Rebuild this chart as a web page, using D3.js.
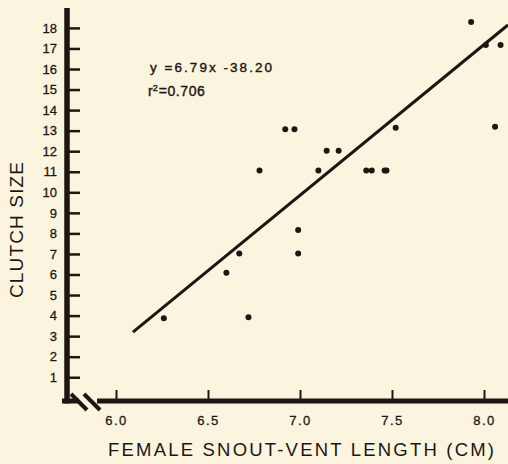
<!DOCTYPE html>
<html>
<head>
<meta charset="utf-8">
<script src="https://cdn.jsdelivr.net/npm/d3@7"></script>
<style>
  html, body { margin: 0; padding: 0; background: #fbf5e0; }
  svg { display: block; }
  text { font-family: "Liberation Sans", Arial, sans-serif; fill: #1c1712; }
</style>
</head>
<body>
<div id="chart"></div>
<script>
// DATA
var svl = [6.26, 6.60, 6.67, 6.72, 6.78, 6.92, 6.97, 6.99, 6.99, 7.10, 7.145,
           7.21, 7.36, 7.39, 7.46, 7.47, 7.52, 7.93, 8.01, 8.06, 8.09];   // female SVL (cm)
var clutch = [3.87, 6.09, 7.02, 3.92, 11.06, 13.07, 13.07, 8.17, 7.02, 11.06, 12.02,
              12.02, 11.06, 11.06, 11.06, 11.06, 13.14, 18.29, 17.17, 13.19, 17.17]; // clutch size
var fitX = [6.092, 8.13];   // drawn regression line ends
var fitY = [3.20, 18.14];
var xTicks = [6.0, 6.5, 7.0, 7.5, 8.0];
var yTicks = [1, 2, 3, 4, 5, 6, 7, 8, 9, 10, 11, 12, 13, 14, 15, 16, 17, 18];
var eqText = "y =6.79x -38.20";
var r2Text = "=0.706";

var W = 508, H = 464;
var ink = "#1c1712";
var axisX = 67;     // y axis position
var axisY = 401;    // x axis position

var svg = d3.select("#chart").append("svg")
	.attr("width", W)
	.attr("height", H);

var x = d3.scaleLinear().domain([6, 8]).range([116, 484]);
var y = d3.scaleLinear().domain([0, 18]).range([397.8, 27.9]);

// Y AXIS
var yAxis = svg.append("g")
	.attr("transform", "translate(" + axisX + ",0)")
	.call(d3.axisLeft(y).tickValues(yTicks).tickSize(-13).tickPadding(10).tickFormat(d3.format("d")));
yAxis.select(".domain").remove();
yAxis.selectAll(".tick line").attr("stroke", ink).attr("stroke-width", 2.5);
yAxis.selectAll(".tick text").style("font-size", "13px").attr("fill", ink)
	.attr("stroke", ink).attr("stroke-width", 0.3);

svg.append("line")
	.attr("x1", axisX).attr("x2", axisX)
	.attr("y1", 8).attr("y2", axisY + 2.5)
	.attr("stroke", ink).attr("stroke-width", 5.5);

// X AXIS
var xAxis = svg.append("g")
	.attr("transform", "translate(0," + axisY + ")")
	.call(d3.axisBottom(x).tickValues(xTicks).tickSize(-11).tickPadding(15).tickFormat(d3.format(".1f")));
xAxis.select(".domain").remove();
xAxis.selectAll(".tick line").attr("stroke", ink).attr("stroke-width", 2);
xAxis.selectAll(".tick text").style("font-size", "13px").style("letter-spacing", "1.5px").attr("fill", ink)
	.attr("stroke", ink).attr("stroke-width", 0.3);

// axis line with a break near the origin
svg.append("line")
	.attr("x1", axisX - 5).attr("x2", axisX + 12)
	.attr("y1", axisY).attr("y2", axisY)
	.attr("stroke", ink).attr("stroke-width", 5);
svg.append("line")
	.attr("x1", axisX + 30).attr("x2", W)
	.attr("y1", axisY).attr("y2", axisY)
	.attr("stroke", ink).attr("stroke-width", 5);
[0, 13].forEach(function(o) {
	svg.append("line")
		.attr("x1", axisX + 4 + o).attr("y1", axisY - 7)
		.attr("x2", axisX + 20 + o).attr("y2", axisY + 9)
		.attr("stroke", ink).attr("stroke-width", 4);
});

// TITLES
svg.append("text")
	.attr("x", 108).attr("y", 456)
	.attr("textLength", 386)
	.style("font-size", "18.5px")
	.text("FEMALE SNOUT-VENT LENGTH (CM)");

svg.append("text")
	.attr("transform", "translate(23,298) rotate(-90)")
	.attr("textLength", 136)
	.style("font-size", "19px")
	.attr("fill", "#3a342c")
	.text("CLUTCH SIZE");

// EQUATION
svg.append("text")
	.attr("x", 150).attr("y", 72)
	.attr("textLength", 122)
	.style("font-size", "13.5px")
	.attr("stroke", ink).attr("stroke-width", 0.4)
	.text(eqText);
var r2 = svg.append("text")
	.attr("x", 148).attr("y", 96)
	.style("font-size", "14px")
	.attr("stroke", ink).attr("stroke-width", 0.4);
r2.append("tspan").text("r");
r2.append("tspan").attr("dy", -5).style("font-size", "9px").text("2");
r2.append("tspan").attr("dy", 5).attr("dx", 1).style("letter-spacing", "0.6px").text(r2Text);

// REGRESSION LINE
var lineData = fitX.map(function(d, i) { return { xv: d, yv: fitY[i] }; });
var doTheLine = d3.line()
	.x(function(d) { return x(d.xv); })
	.y(function(d) { return y(d.yv); });
svg.append("path")
	.datum(lineData)
	.attr("d", doTheLine)
	.attr("fill", "none")
	.attr("stroke", ink)
	.attr("stroke-width", 3);

// POINTS
var pts = svl.map(function(d, i) { return { xv: d, yv: clutch[i] }; });
svg.selectAll("circle.pt")
	.data(pts)
	.enter()
	.append("circle")
	.attr("class", "pt")
	.attr("cx", function(d) { return x(d.xv); })
	.attr("cy", function(d) { return y(d.yv); })
	.attr("r", 3)
	.attr("fill", ink);
</script>
</body>
</html>
